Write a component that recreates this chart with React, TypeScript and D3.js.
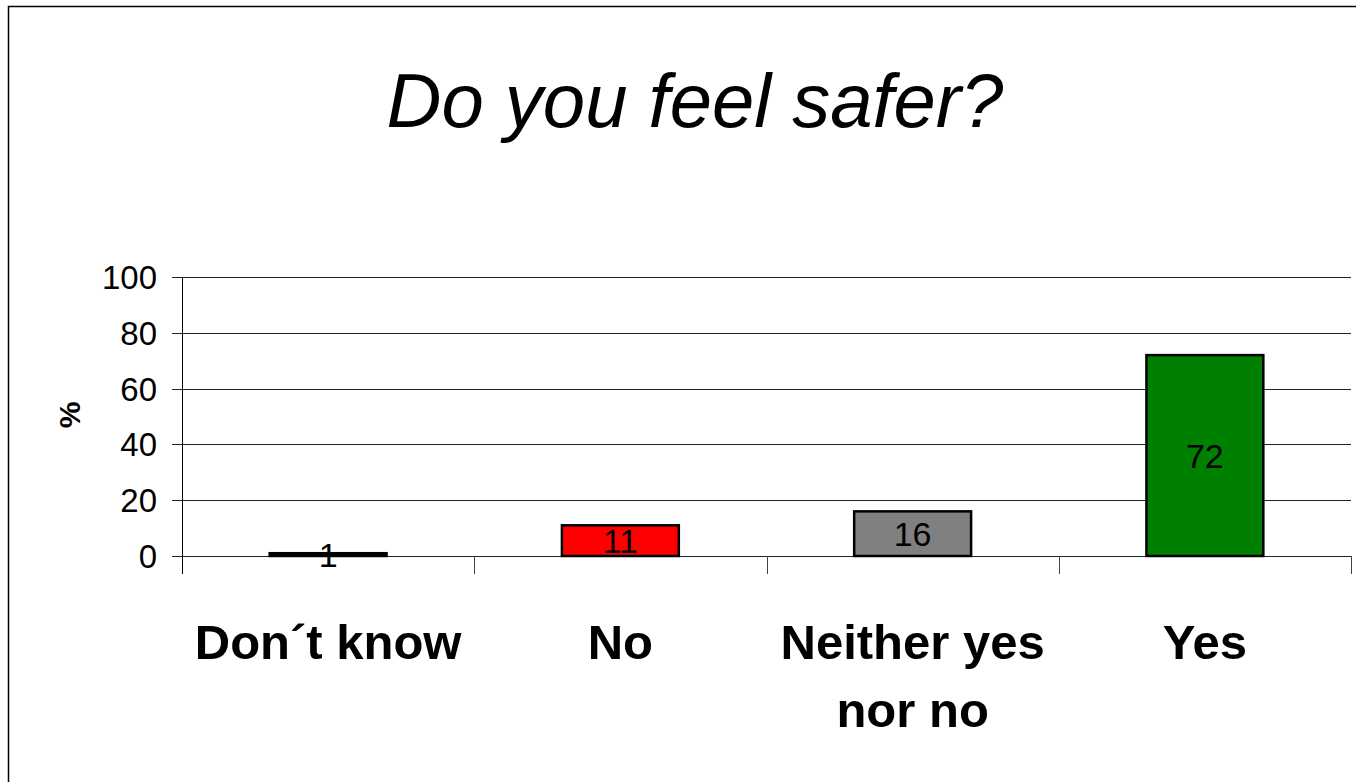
import React, { useEffect, useRef } from "react";
import * as d3 from "d3";

const categories = ["Don\u00b4t know", "No", "Neither yes nor no", "Yes"];
const labelLines = [["Don\u00b4t know"], ["No"], ["Neither yes", "nor no"], ["Yes"]];
const values = [1, 11, 16, 72];
const barColors = ["#000000", "#ff0000", "#808080", "#008000"];
const yTicks = [0, 20, 40, 60, 80, 100];

const W = 1356;
const H = 782;

export default function App() {
  const ref = useRef<SVGSVGElement>(null);

  useEffect(() => {
    const svg = d3.select(ref.current);
    svg.selectAll("*").remove();

    // plot area
    const left = 182, right = 1351, top = 277, bottom = 556;

    // outer frame (right/bottom edges are cropped off)
    svg.append("rect")
      .attr("x", 8.5).attr("y", 6.5)
      .attr("width", W + 20).attr("height", H + 20)
      .attr("fill", "none").attr("stroke", "#000").attr("stroke-width", 1.5);

    svg.append("text")
      .attr("x", 695).attr("y", 127)
      .attr("text-anchor", "middle")
      .attr("font-family", "Liberation Sans, Arial, sans-serif")
      .attr("font-style", "italic")
      .attr("font-size", 76)
      .text("Do you feel safer?");

    const x = d3.scaleBand<string>().domain(categories).range([left, right]).paddingInner(0.6).paddingOuter(0.3);
    const xCat = d3.scaleBand<string>().domain(categories).range([left, right]);
    const y = d3.scaleLinear().domain([0, 100]).range([bottom, top]);

    const g = svg.append("g");

    // gridlines + y ticks
    g.selectAll(".grid").data(yTicks).join("line")
      .attr("x1", left - 10).attr("x2", right)
      .attr("y1", d => Math.round(y(d)) + 0.5).attr("y2", d => Math.round(y(d)) + 0.5)
      .attr("stroke", "#222").attr("stroke-width", 1);

    g.selectAll(".ytl").data(yTicks).join("text")
      .attr("x", 157).attr("y", d => y(d) + 12)
      .attr("text-anchor", "end")
      .attr("font-family", "Liberation Sans, Arial, sans-serif")
      .attr("font-size", 33)
      .text(d => d);

    // y axis line
    g.append("line")
      .attr("x1", left + 0.5).attr("x2", left + 0.5)
      .attr("y1", top).attr("y2", bottom + 18)
      .attr("stroke", "#000");

    // category separators
    g.selectAll(".sep").data(categories).join("line")
      .attr("x1", d => Math.round((xCat(d) as number) + xCat.bandwidth()) + 0.5)
      .attr("x2", d => Math.round((xCat(d) as number) + xCat.bandwidth()) + 0.5)
      .attr("y1", bottom).attr("y2", bottom + 18)
      .attr("stroke", "#444");

    // bars
    g.selectAll(".bar").data(values).join("rect")
      .attr("x", (d, i) => x(categories[i]) as number)
      .attr("y", d => y(d))
      .attr("width", x.bandwidth())
      .attr("height", d => bottom - y(d))
      .attr("fill", (d, i) => barColors[i])
      .attr("stroke", "#000").attr("stroke-width", 2.5);

    // value labels
    g.selectAll(".val").data(values).join("text")
      .attr("x", (d, i) => (x(categories[i]) as number) + x.bandwidth() / 2)
      .attr("y", d => (y(d) + bottom) / 2 + 12)
      .attr("text-anchor", "middle")
      .attr("font-family", "Liberation Sans, Arial, sans-serif")
      .attr("font-size", 34)
      .text(d => d);

    // category labels
    const cl = g.selectAll(".cat").data(labelLines).join("text")
      .attr("text-anchor", "middle")
      .attr("font-family", "Liberation Sans, Arial, sans-serif")
      .attr("font-weight", "bold")
      .attr("font-size", 49);
    cl.each(function (lines, i) {
      const cx = (xCat(categories[i]) as number) + xCat.bandwidth() / 2;
      d3.select(this).selectAll("tspan").data(lines).join("tspan")
        .attr("x", cx)
        .attr("y", (d, j) => 659 + j * 68)
        .text(d => d);
    });

    // y axis title
    svg.append("text")
      .attr("transform", "translate(80,415) rotate(-90)")
      .attr("text-anchor", "middle")
      .attr("font-family", "Liberation Sans, Arial, sans-serif")
      .attr("font-weight", "bold")
      .attr("font-size", 30)
      .text("%");
  }, []);

  return (
    <svg ref={ref} width={W} height={H}
      style={{ position: "absolute", left: 0, top: 0, background: "#fff" }} />
  );
}
